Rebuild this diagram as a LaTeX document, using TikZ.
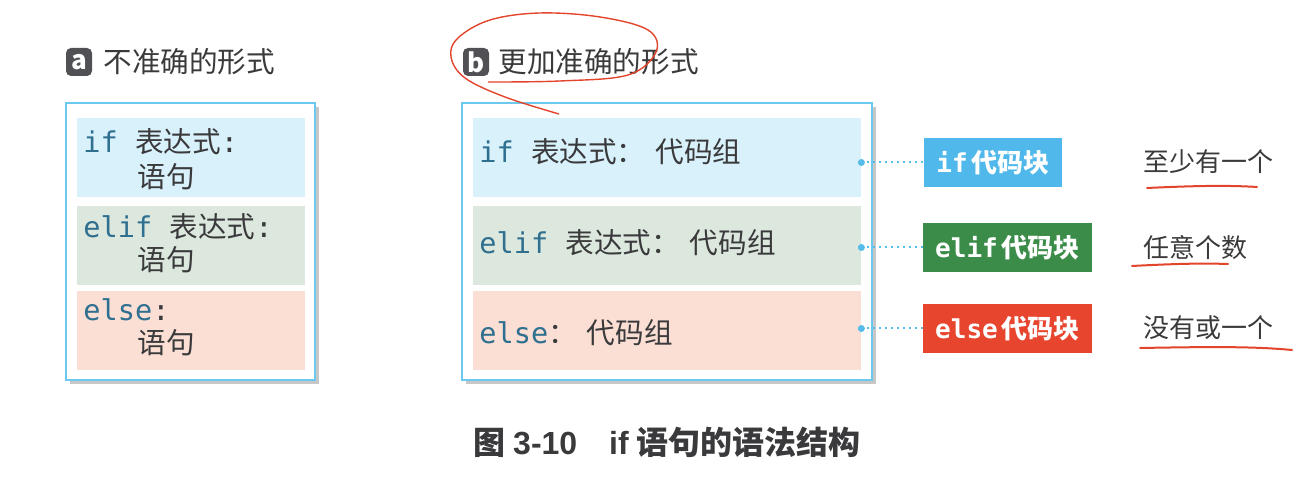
\documentclass[tikz,border=0pt]{standalone}
\usepackage{fontspec}
\setmainfont{Noto Sans CJK SC}
\setmonofont{DejaVu Sans Mono}
\newfontfamily\capfont{Liberation Sans}
\usetikzlibrary{positioning,shadows}

\definecolor{txtgray}{HTML}{3A3A3C}
\definecolor{kwblue}{HTML}{2F6F8F}
\definecolor{framblue}{HTML}{6CC8EE}
\definecolor{ifbg}{HTML}{D9F1FB}
\definecolor{elifbg}{HTML}{DCE8DE}
\definecolor{elsebg}{HTML}{FBDFD4}
\definecolor{iftag}{HTML}{50B8EA}
\definecolor{eliftag}{HTML}{3B8C48}
\definecolor{elsetag}{HTML}{E8452F}
\definecolor{dotblue}{HTML}{56BDEB}
\definecolor{badgegray}{HTML}{505055}
\definecolor{penred}{HTML}{E2442C}

\newcommand{\kw}[1]{{\ttfamily\color{kwblue}#1}}
\newcommand{\fcolon}{：\hspace{5pt}}

\tikzset{
  frame/.style={draw=framblue, line width=1pt, fill=white, inner sep=0pt,
    minimum height=138.5pt,
    drop shadow={shadow xshift=2pt, shadow yshift=-2pt, fill=black!22, opacity=1}},
  band/.style={inner sep=0pt, minimum height=39.5pt},
  code/.style={anchor=west, inner sep=0pt, text=txtgray, font=\fontsize{14.3}{16}\selectfont},
  badge/.style={fill=badgegray, rounded corners=2.5pt, minimum width=13pt, minimum height=14pt,
    inner sep=0pt, text=white, font=\bfseries\fontsize{13}{13}\selectfont},
  title/.style={anchor=west, inner sep=0pt, text=txtgray, font=\fontsize{14.3}{16}\selectfont},
  tag/.style={minimum height=24.5pt, inner sep=0pt, text=white, font=\bfseries\fontsize{13}{15}\selectfont},
  note/.style={anchor=west, inner sep=0pt, text=txtgray, font=\fontsize{13}{15}\selectfont},
  link/.style={dotblue, dotted, line width=1pt},
  redline/.style={penred, line width=1pt, line cap=round}
}

\begin{document}
\begin{tikzpicture}[x=0.5pt, y=-0.5pt]
\useasboundingbox (0,0) rectangle (1316,490);

% headings
\node[badge] (ba) at (79,62) {a};
\node[title] (ta) at (103,62) {不准确的形式};
\node[badge] (bb) at (476,62) {b};
\node[title] (tb) at (498,62) {更加准确的形式};

% left frame
\node[frame, minimum width=124.5pt] (fa) at (190.5,241.5) {};
\node[band, fill=ifbg, minimum width=114pt] (lif) at (191,158) {};
\node[band, fill=elifbg, minimum width=114pt] (lelif) at (191,246) {};
\node[band, fill=elsebg, minimum width=114pt] (lelse) at (191,331) {};
\node[code] (lc1) at (83,142) {\kw{if }表达式\texttt{:}};
\node[code] (lc2) at (137,177) {语句};
\node[code] (lc3) at (83,227) {\kw{elif }表达式\texttt{:}};
\node[code] (lc4) at (137,260) {语句};
\node[code] (lc5) at (83,310) {\kw{else}\texttt{:}};
\node[code] (lc6) at (137,343) {语句};

% right frame
\node[frame, minimum width=205pt] (fb) at (667,241.5) {};
\node[band, fill=ifbg, minimum width=194pt] (rif) at (667,158) {};
\node[band, fill=elifbg, minimum width=194pt] (relif) at (667,246) {};
\node[band, fill=elsebg, minimum width=194pt] (relse) at (667,331) {};
\node[code] (rc1) at (479,152) {\kw{if }表达式\fcolon 代码组};
\node[code] (rc2) at (479,243) {\kw{elif }表达式\fcolon 代码组};
\node[code] (rc3) at (479,333) {\kw{else}\fcolon 代码组};

% tags
\node[tag, fill=iftag, minimum width=69pt] (tagif) at (993,162.5) {\texttt{if}\hspace{2pt}代码块};
\node[tag, fill=eliftag, minimum width=84.5pt] (tagelif) at (1007.5,247.5) {\texttt{elif}\hspace{2pt}代码块};
\node[tag, fill=elsetag, minimum width=84.5pt] (tagelse) at (1007.5,328.5) {\texttt{else}\hspace{2pt}代码块};

\coordinate (pif) at (tagif.west -| rif.east);
\coordinate (pelif) at (tagelif.west -| relif.east);
\coordinate (pelse) at (tagelse.west -| relse.east);
\draw[link] (pif) -- (tagif.west);
\draw[link] (pelif) -- (tagelif.west);
\draw[link] (pelse) -- (tagelse.west);
\fill[dotblue] (pif) circle (3.5);
\fill[dotblue] (pelif) circle (3.5);
\fill[dotblue] (pelse) circle (3.5);

% notes
\node[note] (nif) at (1143,162) {至少有一个};
\node[note] (nelif) at (1143,248) {任意个数};
\node[note] (nelse) at (1143,328) {没有或一个};

% red pen marks
\draw[redline] (1147,188) .. controls (1190,186) and (1225,185) .. (1257,187);
\draw[redline] (1132,266) .. controls (1170,264) and (1200,263) .. (1228,264);
\draw[redline] (1140,348) .. controls (1200,347) and (1250,346) .. (1292,350);
\draw[penred, line width=0.7pt] plot[smooth, tension=0.6] coordinates {
  (488,82) (560,81) (628,75) (656,52) (648,30) (600,17) (540,13)
  (490,20) (458,38) (451,57) (465,78) (505,97) (559,114)};

% caption
\node[inner sep=0pt, text=txtgray, font=\bfseries\fontsize{16}{18}\selectfont] (cap) at (667,442)
  {图 {\capfont 3-10}\quad{\capfont if} 语句的语法结构};
\end{tikzpicture}
\end{document}
